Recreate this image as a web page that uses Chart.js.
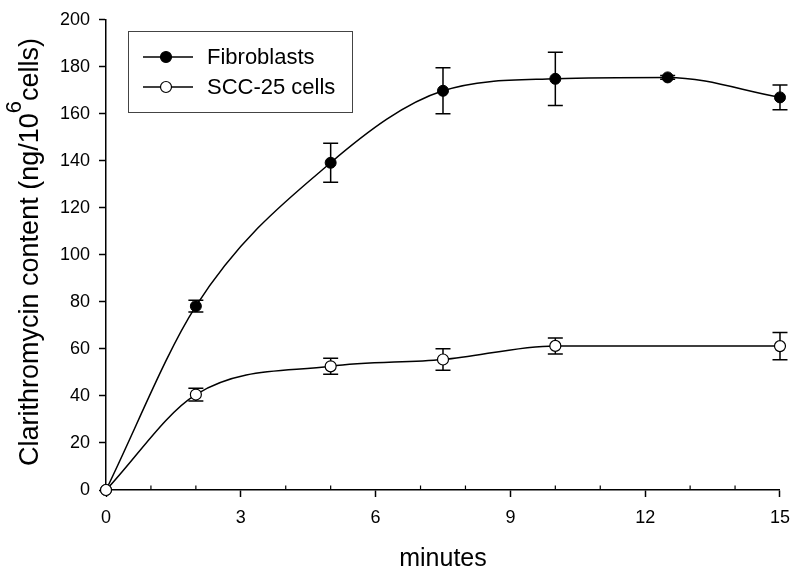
<!DOCTYPE html>
<html>
<head>
<meta charset="utf-8">
<script src="https://cdn.jsdelivr.net/npm/chart.js@4/dist/chart.umd.min.js"></script>
<style>
  html, body { margin: 0; padding: 0; background: #fff; }
  #wrap { width: 800px; height: 577px; }
</style>
</head>
<body>
<div id="wrap"><canvas id="c" width="800" height="577"></canvas></div>
<script>
// ---- data ----
const fibroTimes = [0, 2, 5, 7.5, 10, 12.5, 15];
const fibroMean  = [0, 78.2, 139.2, 169.8, 174.9, 175.5, 167.0];
const fibroErr   = [0, 2.5, 8.3, 9.8, 11.3, 0.8, 5.3];

const sccTimes = [0, 2, 5, 7.5, 10, 15];
const sccMean  = [0, 40.6, 52.6, 55.5, 61.3, 61.2];
const sccErr   = [0, 2.7, 3.4, 4.6, 3.4, 5.8];

const seriesLabels = ['Fibroblasts', 'SCC-25 cells'];
const xTitle = 'minutes';
const yTitlePre = 'Clarithromycin content (ng/10';
const yTitleSup = '6';
const yTitlePost = 'cells)';

const FONT = '"Liberation Sans", Arial, Helvetica, sans-serif';

function toXY(xs, ys) { return xs.map((x, i) => ({ x: x, y: ys[i] })); }

const errors = [fibroErr, sccErr];

const errorBarPlugin = {
  id: 'errorBars',
  beforeDatasetsDraw(chart) {
    const ctx = chart.ctx;
    const ys = chart.scales.y;
    ctx.save();
    ctx.strokeStyle = '#000';
    ctx.lineWidth = 1.5;
    chart.data.datasets.forEach((ds, di) => {
      const meta = chart.getDatasetMeta(di);
      const errs = errors[di];
      meta.data.forEach((pt, i) => {
        const e = errs[i];
        if (!e) return;
        const v = ds.data[i].y;
        const x = pt.x;
        const yt = ys.getPixelForValue(v + e);
        const yb = ys.getPixelForValue(v - e);
        const cap = 7.5;
        ctx.beginPath();
        ctx.moveTo(x, yt); ctx.lineTo(x, yb);
        ctx.moveTo(x - cap, yt); ctx.lineTo(x + cap, yt);
        ctx.moveTo(x - cap, yb); ctx.lineTo(x + cap, yb);
        ctx.stroke();
      });
    });
    ctx.restore();
  }
};

const decorPlugin = {
  id: 'decor',
  afterDraw(chart) {
    const ctx = chart.ctx;
    const xs = chart.scales.x;
    const a = chart.chartArea;
    ctx.save();
    // minor ticks on x axis (inward)
    ctx.strokeStyle = '#000';
    ctx.lineWidth = 1.2;
    for (let v = xs.min; v <= xs.max; v += 1) {
      if (v % 3 === 0) continue;
      const px = xs.getPixelForValue(v);
      ctx.beginPath();
      ctx.moveTo(px, a.bottom);
      ctx.lineTo(px, a.bottom - 4.5);
      ctx.stroke();
    }

    // y axis title with superscript
    const mainFont = '27px ' + FONT;
    const supFont = '22px ' + FONT;
    ctx.font = mainFont;
    const w1 = ctx.measureText(yTitlePre).width;
    const w3 = ctx.measureText(yTitlePost).width;
    ctx.font = supFont;
    const w2 = ctx.measureText(yTitleSup).width;
    const total = w1 + w2 + w3;
    const cy = 252;
    ctx.save();
    ctx.translate(38, cy);
    ctx.rotate(-Math.PI / 2);
    ctx.fillStyle = '#000';
    ctx.textAlign = 'left';
    ctx.textBaseline = 'alphabetic';
    let x = -total / 2;
    ctx.font = mainFont; ctx.fillText(yTitlePre, x, 0); x += w1;
    ctx.font = supFont; ctx.fillText(yTitleSup, x, -17); x += w2;
    ctx.font = mainFont; ctx.fillText(yTitlePost, x, 0);
    ctx.restore();

    // legend box
    const bx = 128.5, by = 31.5, bw = 224, bh = 81;
    ctx.strokeStyle = '#444';
    ctx.lineWidth = 1;
    ctx.strokeRect(bx, by, bw, bh);
    const rows = [57, 87];
    chart.data.datasets.forEach((ds, di) => {
      const ry = rows[di];
      ctx.strokeStyle = '#000';
      ctx.lineWidth = 1.5;
      ctx.beginPath();
      ctx.moveTo(143, ry); ctx.lineTo(193, ry);
      ctx.stroke();
      ctx.beginPath();
      ctx.arc(166, ry, 5.5, 0, Math.PI * 2);
      ctx.fillStyle = ds.pointBackgroundColor;
      ctx.fill();
      ctx.lineWidth = 1.2;
      ctx.stroke();
      ctx.fillStyle = '#000';
      ctx.font = '22px ' + FONT;
      ctx.textAlign = 'left';
      ctx.textBaseline = 'middle';
      ctx.fillText(ds.label, 207, ry + 0.5);
    });
    ctx.restore();
  }
};

new Chart(document.getElementById('c'), {
  type: 'line',
  data: {
    datasets: [
      {
        label: seriesLabels[0],
        data: toXY(fibroTimes, fibroMean),
        borderColor: '#000',
        borderWidth: 1.5,
        pointRadius: 5.5,
        pointBackgroundColor: '#000',
        pointBorderColor: '#000',
        pointBorderWidth: 1,
        cubicInterpolationMode: 'monotone',
        fill: false,
        clip: false,
        order: 1
      },
      {
        label: seriesLabels[1],
        data: toXY(sccTimes, sccMean),
        borderColor: '#000',
        borderWidth: 1.5,
        pointRadius: 5.5,
        pointBackgroundColor: '#fff',
        pointBorderColor: '#000',
        pointBorderWidth: 1.2,
        cubicInterpolationMode: 'monotone',
        fill: false,
        clip: false,
        order: 0
      }
    ]
  },
  options: {
    responsive: false,
    animation: false,
    devicePixelRatio: 1,
    layout: { padding: { top: 15, right: 19, left: 0, bottom: 0 } },
    plugins: {
      legend: { display: false },
      tooltip: { enabled: false }
    },
    scales: {
      x: {
        type: 'linear',
        min: 0, max: 15,
        afterFit(s) { s.height = 87; },
        border: { display: true, color: '#000', width: 1.5 },
        grid: { drawOnChartArea: false, drawTicks: true, tickLength: 7, tickColor: '#000', tickWidth: 1.5 },
        ticks: { stepSize: 3, padding: 10, color: '#000', font: { family: FONT, size: 18 }, maxRotation: 0 },
        title: { display: true, text: xTitle, color: '#000', font: { family: FONT, size: 25 }, padding: { top: 0, bottom: 3 } }
      },
      y: {
        type: 'linear',
        min: 0, max: 200,
        afterFit(s) { s.width = 106; },
        border: { display: true, color: '#000', width: 1.5 },
        grid: { drawOnChartArea: false, drawTicks: true, tickLength: 7, tickColor: '#000', tickWidth: 1.5 },
        ticks: { stepSize: 20, padding: 9, color: '#000', font: { family: FONT, size: 18 } }
      }
    }
  },
  plugins: [errorBarPlugin, decorPlugin]
});
</script>
</body>
</html>
